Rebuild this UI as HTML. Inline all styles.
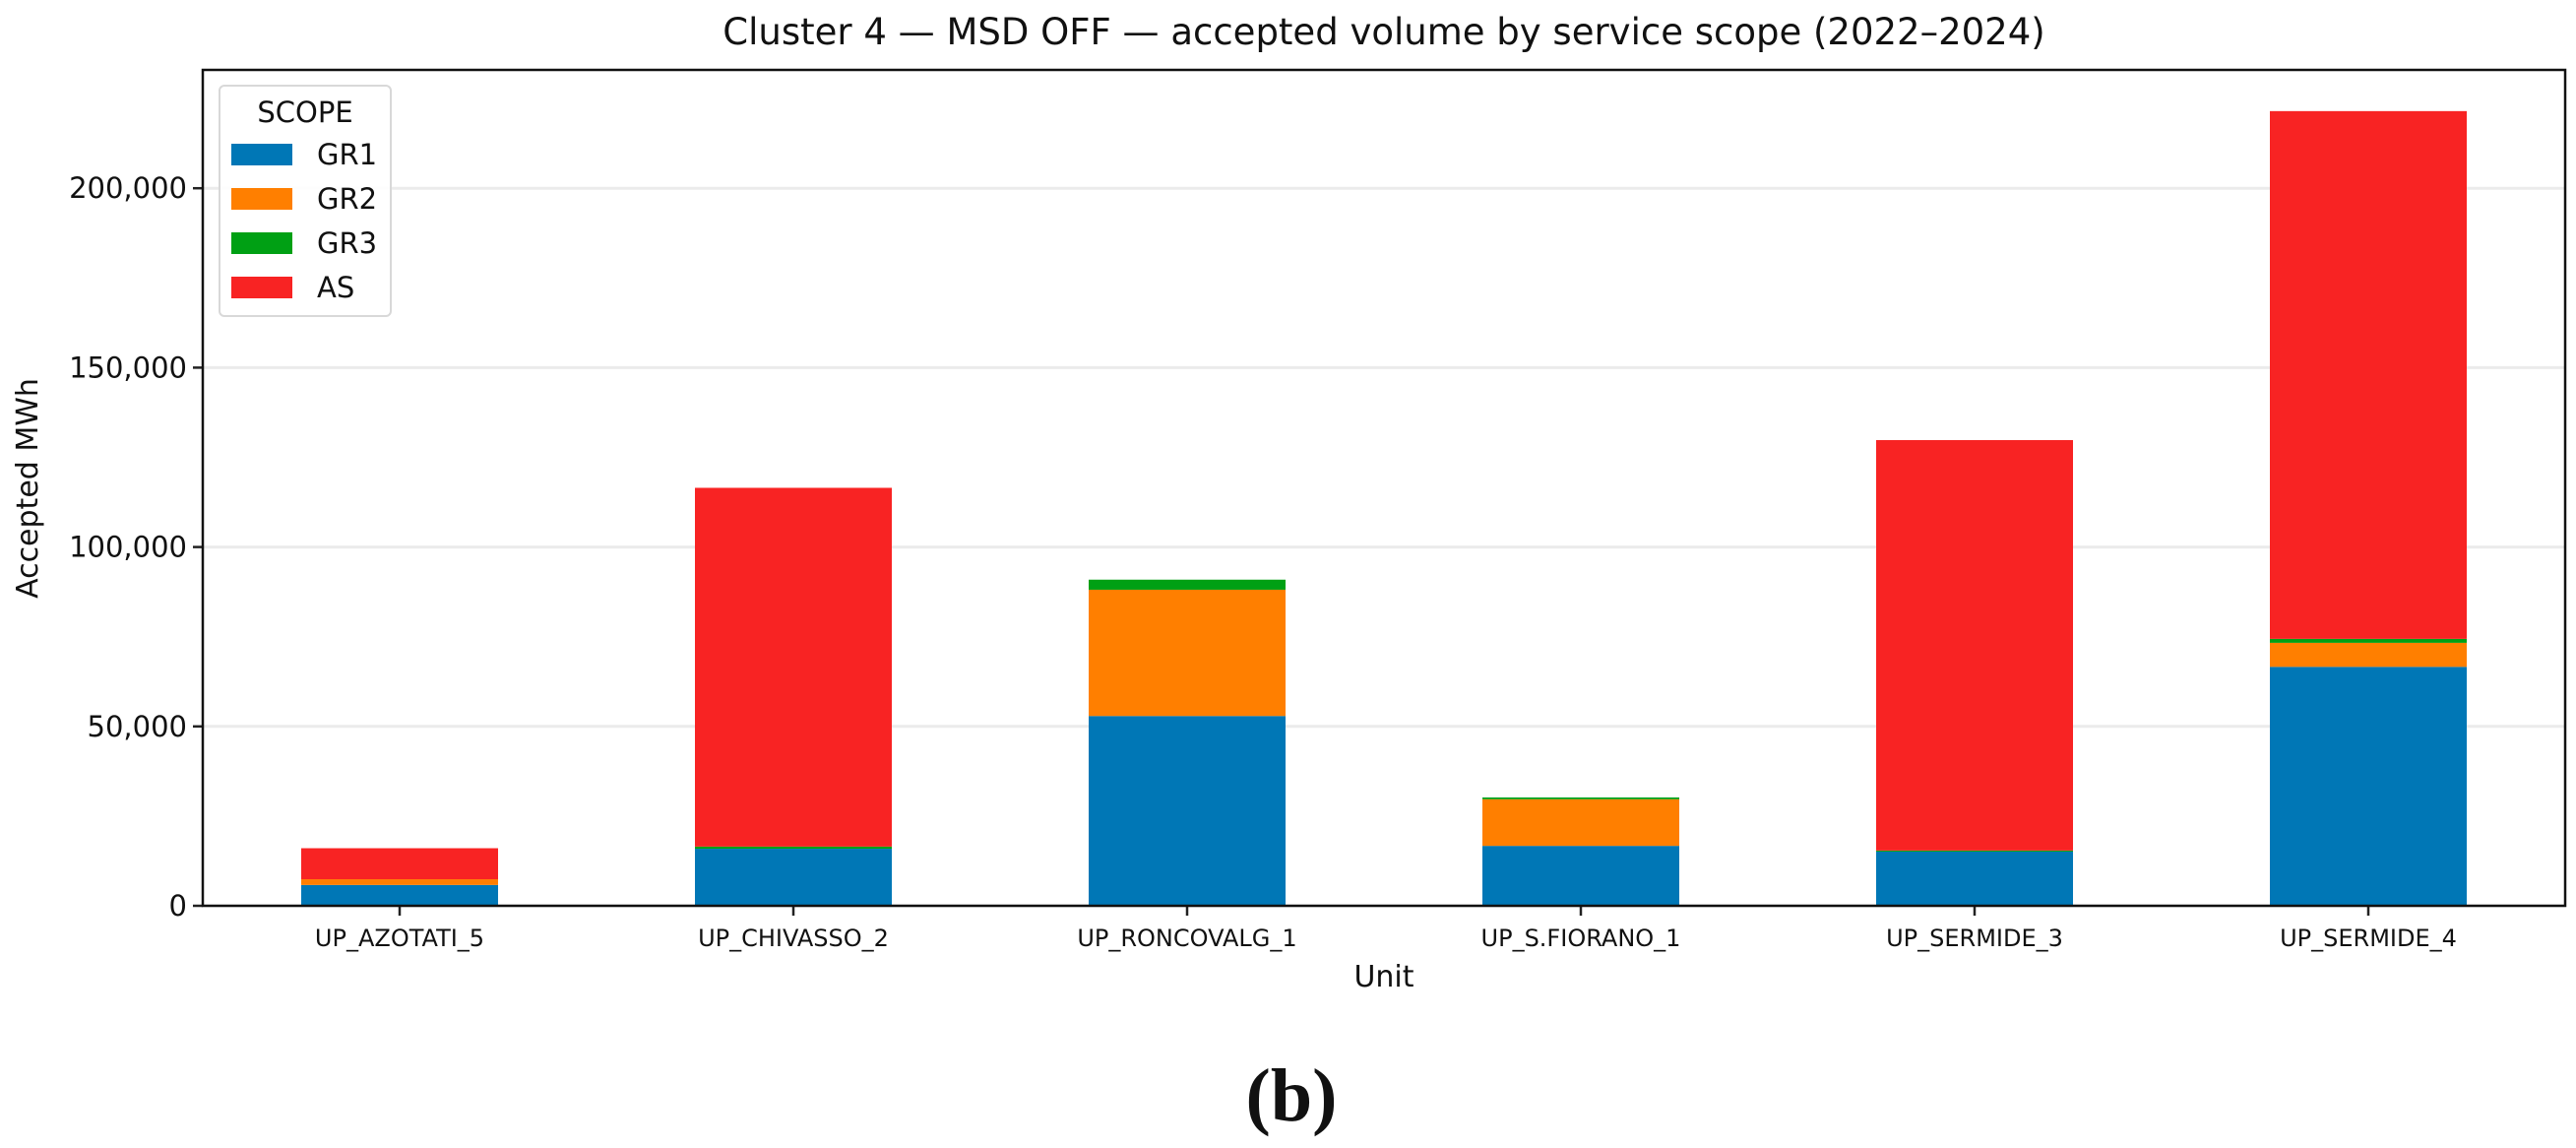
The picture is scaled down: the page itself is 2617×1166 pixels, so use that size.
<!DOCTYPE html>
<html><head><meta charset="utf-8"><style>
html,body{margin:0;padding:0;background:#fff}
svg text{font-family:"DejaVu Sans","Liberation Sans",sans-serif;fill:#111}
</style></head><body>
<svg id="chart" width="2617" height="1161" viewBox="0 0 2617 1161" xmlns="http://www.w3.org/2000/svg">
<text x="1406" y="45" font-size="37" text-anchor="middle">Cluster 4 — MSD OFF — accepted volume by service scope (2022–2024)</text>
<g id="grid"></g>
<g id="bars"></g>
<g id="axes"></g>
<text x="1406" y="1002" font-size="30" text-anchor="middle">Unit</text>
<text x="0" y="0" font-size="30" text-anchor="middle" transform="translate(38,496) rotate(-90)">Accepted MWh</text>
<g id="legend"></g>
<text x="1312" y="1138" font-size="76" font-weight="bold" text-anchor="middle" style="font-family:'Liberation Serif',serif">(b)</text>
</svg>
<script>
const categories=["UP_AZOTATI_5","UP_CHIVASSO_2","UP_RONCOVALG_1","UP_S.FIORANO_1","UP_SERMIDE_3","UP_SERMIDE_4"];
const gr1=[5800,15900,52900,16700,15100,66600];
const gr2=[1600,0,35200,13000,0,6700];
const gr3=[0,600,2800,500,300,1100];
const as=[8650,100000,0,0,114400,147100];
const seriesNames=["GR1","GR2","GR3","AS"];
const seriesColors=["#0077b6","#ff7f00","#00a014","#f82323"];
const yTicks=[0,50000,100000,150000,200000];
const yTickLabels=["0","50,000","100,000","150,000","200,000"];

const NS="http://www.w3.org/2000/svg";
const L=206,R=2606,T=71,B=920,yPerUnit=182.2/50000;
const y=v=>B-v*yPerUnit;
const step=(R-L)/categories.length;
const x=i=>L+step*(i+0.5);
const bw=step*0.5;
function mk(tag,attrs,parent){const e=document.createElementNS(NS,tag);for(const k in attrs)e.setAttribute(k,attrs[k]);parent.appendChild(e);return e;}
const grid=document.getElementById('grid'),bars=document.getElementById('bars'),axes=document.getElementById('axes'),legend=document.getElementById('legend');
yTicks.forEach((t,i)=>{
  const g=mk('line',{x1:L,x2:R,y1:y(t),y2:y(t),stroke:'#ebebeb','stroke-width':3},grid);
  
  
  const tk=mk('line',{x1:L-10,x2:L,y1:y(t),y2:y(t),stroke:'#222','stroke-width':2.5},axes);
  
  
  const tx=mk('text',{x:L-16,y:y(t)+10,'font-size':29,'text-anchor':'end'},axes);
  
  
  tx.textContent=yTickLabels[i];
});
const series=[gr1,gr2,gr3,as];
categories.forEach((c,i)=>{
  let base=0;
  series.forEach((s,k)=>{
    const v=s[i];
    if(v>0){
      const r=mk('rect',{x:x(i)-bw/2,y:y(base+v),width:bw,height:v*yPerUnit,fill:seriesColors[k]},bars);
      
      
    }
    base+=v;
  });
  const tk=mk('line',{x1:x(i),x2:x(i),y1:B,y2:B+10,stroke:'#222','stroke-width':2.5},axes);
  
  
  const tx=mk('text',{x:x(i),y:B+41,'font-size':24,'text-anchor':'middle'},axes);
  
  
  tx.textContent=c;
});
const frame=mk('rect',{x:L,y:T,width:R-L,height:B-T,fill:'none',stroke:'#111','stroke-width':2.5},axes);


const lb=mk('rect',{x:223,y:87,width:174,height:234,rx:5,fill:'#fff','fill-opacity':0.9,stroke:'#d8d8d8','stroke-width':2},legend);


const lt=mk('text',{x:310,y:124,'font-size':29,'text-anchor':'middle'},legend);


lt.textContent='SCOPE';
seriesNames.forEach((n,k)=>{
  const yy=146+k*45;
  const sw=mk('rect',{x:235,y:yy,width:62,height:22,fill:seriesColors[k]},legend);
  
  
  const t=mk('text',{x:322,y:yy+21,'font-size':29},legend);
  
  
  t.textContent=n;
});
</script>
</body></html>
